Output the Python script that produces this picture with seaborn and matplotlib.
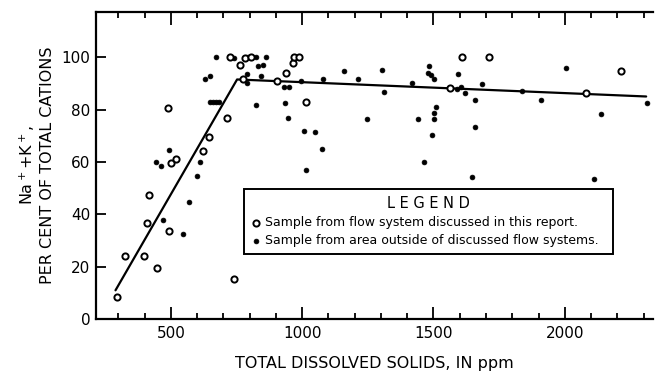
import matplotlib
matplotlib.use("Agg")
import matplotlib.pyplot as plt
from matplotlib.ticker import MultipleLocator
import seaborn as sns
import pandas as pd

# Samples from the flow system discussed in the report (open circles)
flow_tds = [293, 327, 397, 408, 416, 446, 488, 494, 502, 520, 624, 644, 712, 726, 740,
            763, 773, 783, 805, 904, 939, 964, 967, 986, 1013, 1563, 1607, 1710, 2079, 2215]
flow_pct = [8.4, 24.2, 24.2, 36.6, 47.4, 19.5, 80.5, 33.7, 59.7, 61.0, 64.0, 69.6, 76.6, 99.9, 15.2,
            96.9, 91.6, 99.7, 100.1, 90.8, 93.8, 97.8, 99.9, 99.9, 82.9, 88.4, 99.9, 99.9, 86.5, 94.7]

# Samples from areas outside the discussed flow systems (filled dots)
out_tds = [444, 464, 470, 493, 546, 570, 601, 611, 630, 647, 650, 661, 672, 683, 672,
           741, 790, 790, 795, 824, 831, 852, 843, 862, 825, 975, 929, 951, 995, 935,
           946, 1005, 1048, 1076, 1013, 1079, 1160, 1212, 1305, 1312, 1245, 1417, 1442, 1463, 1482,
           1478, 1490, 1502, 1590, 1592, 1508, 1502, 1503, 1494, 1603, 1620, 1684, 1660, 1657, 1648,
           1838, 1910, 2003, 2139, 2110, 2313]
out_pct = [59.8, 58.5, 37.7, 64.5, 32.6, 44.9, 54.7, 59.8, 91.6, 92.7, 82.8, 82.8, 82.8, 82.8, 100.1,
           99.7, 93.4, 90.2, 100.0, 99.9, 96.7, 97.0, 93.0, 99.9, 81.6, 100.2, 88.7, 88.7, 90.8, 82.7,
           76.8, 71.8, 71.5, 64.8, 56.9, 91.7, 94.7, 91.7, 95.0, 86.6, 76.5, 90.0, 76.5, 59.8, 96.7,
           93.8, 93.2, 91.5, 87.7, 93.5, 80.8, 78.7, 76.5, 70.3, 88.7, 86.5, 89.6, 83.6, 73.4, 54.3,
           87.1, 83.5, 95.8, 78.5, 53.4, 82.6]

# Fitted trend line
trend_tds = [289, 752, 2310]
trend_pct = [11.0, 91.5, 85.0]

x_ticks = [500, 1000, 1500, 2000]
y_ticks = [0, 20, 40, 60, 80, 100]

sns.set_style("ticks")
plt.rcParams['font.family'] = ['DejaVu Sans']
plt.rcParams['text.color'] = 'black'
plt.rcParams['axes.labelcolor'] = 'black'

df_flow = pd.DataFrame({"tds": flow_tds, "pct": flow_pct})
df_out = pd.DataFrame({"tds": out_tds, "pct": out_pct})
df_line = pd.DataFrame({"tds": trend_tds, "pct": trend_pct})

fig = plt.figure(figsize=(6.58, 3.75), dpi=100)
ax = fig.add_axes([0.146, 0.149, 0.846, 0.82])

sns.lineplot(data=df_line, x="tds", y="pct", ax=ax, color="black", linewidth=1.6,
             sort=False, estimator=None)
sns.scatterplot(data=df_out, x="tds", y="pct", ax=ax, marker="o", s=12,
                color="black", edgecolor="black", linewidth=0.5,
                label="Sample from area outside of discussed flow systems.", zorder=3)
sns.scatterplot(data=df_flow, x="tds", y="pct", ax=ax, marker="o", s=20,
                facecolor="white", edgecolor="black", linewidth=1.4,
                label="Sample from flow system discussed in this report.", zorder=4)

ax.set_xlim(215, 2335)
ax.set_ylim(0, 117.4)
ax.set_xticks(x_ticks)
ax.set_yticks(y_ticks)
ax.xaxis.set_minor_locator(MultipleLocator(100))
ax.tick_params(axis="both", which="both", direction="in", colors="black",
               labelsize=11, width=1.3)
ax.tick_params(axis="x", which="major", length=9, top=True, bottom=True, pad=5)
ax.tick_params(axis="x", which="minor", length=4.5, top=True, bottom=True)
ax.tick_params(axis="y", which="major", length=7, left=True, right=False, pad=4)

for side in ["left", "bottom", "top"]:
    ax.spines[side].set_linewidth(1.6)
    ax.spines[side].set_color("black")
ax.spines["right"].set_visible(False)

ax.set_xlabel("TOTAL DISSOLVED SOLIDS, IN ppm", fontsize=11.5, labelpad=11, color="black")
ax.set_ylabel("Na$^+$+K$^+$,\nPER CENT OF TOTAL CATIONS", fontsize=11.5,
              labelpad=5, linespacing=1.2, color="black")

handles, labels = ax.get_legend_handles_labels()
order = [1, 0]
leg = ax.legend([handles[i] for i in order], [labels[i] for i in order],
                title="L E G E N D", loc="upper left",
                bbox_to_anchor=(0.266, 0.192, 0.662, 0.231), mode="expand",
                fontsize=9, title_fontsize=10.5, frameon=True, fancybox=False,
                framealpha=1, facecolor="white",
                borderaxespad=0, handletextpad=0.3, handlelength=0.8,
                borderpad=0.55, labelspacing=0.4, markerscale=1.0)
leg.get_frame().set_edgecolor("black")
leg.get_frame().set_linewidth(1.4)
leg.set_zorder(10)

fig.savefig("out.png", dpi=100)
